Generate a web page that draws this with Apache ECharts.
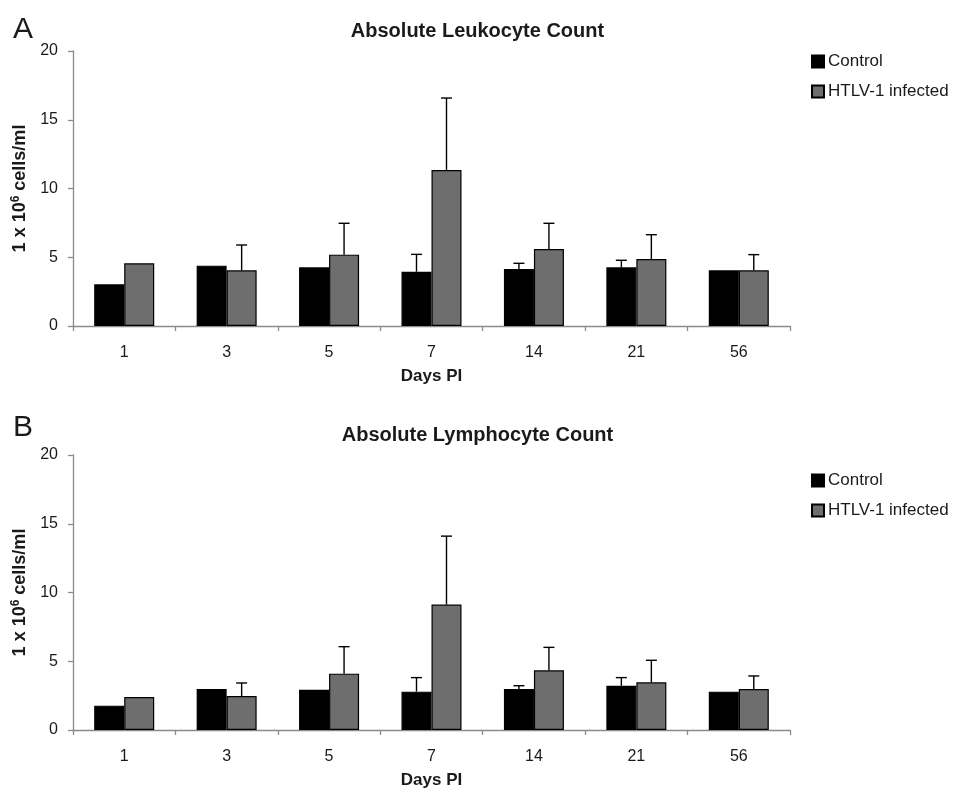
<!DOCTYPE html>
<html>
<head>
<meta charset="utf-8">
<script src="https://cdn.jsdelivr.net/npm/echarts@6/dist/echarts.min.js"></script>
<style>html,body{margin:0;padding:0;background:#fff}#c{width:955px;height:788px}</style>
</head>
<body>
<div id="c"></div>
<script>
const days = ['1', '3', '5', '7', '14', '21', '56'];
const seriesNames = ['Control', 'HTLV-1 infected'];
const yTicks = [0, 5, 10, 15, 20];

// Panel A: Absolute Leukocyte Count
const controlA = [3.03, 4.39, 4.27, 3.95, 4.15, 4.27, 4.05];
const infectedA = [4.56, 4.05, 5.19, 11.35, 5.6, 4.87, 4.05];
const controlA_sd = [null, null, null, 1.26, 0.41, 0.51, null];
const infectedA_sd = [null, 1.84, 2.28, 5.23, 1.87, 1.77, 1.14];

// Panel B: Absolute Lymphocyte Count
const controlB = [1.77, 2.98, 2.93, 2.79, 2.98, 3.22, 2.79];
const infectedB = [2.4, 2.47, 4.1, 9.12, 4.34, 3.47, 2.98];
const controlB_sd = [null, null, null, 1.02, 0.24, 0.59, null];
const infectedB_sd = [null, 0.95, 1.96, 4.98, 1.67, 1.6, 0.95];

const FONT = '"Liberation Sans", Arial, sans-serif';
const BAR_W = 30;
const AXIS_COLOR = '#8a8a8a';
const TEXT_COLOR = '#1a1a1a';

function errData(means, sds) {
  return means.map((m, i) => [i, m, sds[i]]);
}
function errSeries(means, sds, offset, axisIdx) {
  return {
    type: 'custom',
    name: 'err',
    xAxisIndex: axisIdx, yAxisIndex: axisIdx,
    z: 5,
    data: errData(means, sds),
    renderItem: function (params, api) {
      const sd = api.value(2);
      if (sd == null || isNaN(sd)) return null;
      const idx = api.value(0), m = api.value(1);
      const base = api.coord([idx, m]);
      const top = api.coord([idx, m + sd]);
      const x = base[0] + offset;
      const cap = 5.5;
      const style = { stroke: '#000', lineWidth: 1.4 };
      return {
        type: 'group',
        children: [
          { type: 'line', shape: { x1: x, y1: base[1], x2: x, y2: top[1] }, style: style },
          { type: 'line', shape: { x1: x - cap, y1: top[1], x2: x + cap, y2: top[1] }, style: style }
        ]
      };
    }
  };
}
function barSeries(name, data, color, axisIdx) {
  return {
    type: 'bar', name: name, data: data,
    xAxisIndex: axisIdx, yAxisIndex: axisIdx,
    barWidth: BAR_W, barGap: '0%',
    itemStyle: { color: color, borderColor: '#000', borderWidth: 1.2 },
    emphasis: { disabled: true }
  };
}
function xAxis(gridIndex) {
  return {
    type: 'category', gridIndex: gridIndex, data: days,
    name: 'Days PI', nameLocation: 'middle', nameGap: 42, nameMoveOverlap: false,
    nameTextStyle: { fontFamily: FONT, fontSize: 17, fontWeight: 'bold', color: TEXT_COLOR },
    axisLine: { lineStyle: { color: AXIS_COLOR, width: 1.3 } },
    axisTick: { show: true, length: 5, lineStyle: { color: AXIS_COLOR, width: 1.3 } },
    axisLabel: { fontFamily: FONT, fontSize: 16, color: TEXT_COLOR, margin: 19 }
  };
}
function yAxis(gridIndex) {
  return {
    type: 'value', gridIndex: gridIndex, min: yTicks[0], max: yTicks[yTicks.length - 1], interval: 5,
    name: '{n|1 x 10}{s|6}{n| cells/ml}', nameLocation: 'middle', nameGap: 42, nameRotate: 90, nameMoveOverlap: false,
    nameTextStyle: {
      rich: {
        n: { fontFamily: FONT, fontSize: 18, fontWeight: 'bold', color: TEXT_COLOR },
        s: { fontFamily: FONT, fontSize: 12, fontWeight: 'bold', color: TEXT_COLOR, verticalAlign: 'top', padding: [0, 0, 9, 0] }
      }
    },
    axisLine: { show: true, lineStyle: { color: AXIS_COLOR, width: 1.3 } },
    axisTick: { show: true, length: 5, lineStyle: { color: AXIS_COLOR, width: 1.3 } },
    axisLabel: { fontFamily: FONT, fontSize: 16, color: TEXT_COLOR, margin: 15 },
    splitLine: { show: false }
  };
}
function legend(top) {
  return {
    orient: 'vertical', left: 806, top: top, itemWidth: 12, itemHeight: 12, itemGap: 13,
    icon: 'rect', data: seriesNames, selectedMode: false,
    textStyle: { fontFamily: FONT, fontSize: 17, color: TEXT_COLOR, padding: [0, 0, 0, -1] }
  };
}

const chart = echarts.init(document.getElementById('c'), null, { renderer: 'canvas' });
chart.setOption({
  animation: false,
  backgroundColor: '#fff',
  title: [
    { text: 'A', left: 8, top: 10, textStyle: { fontFamily: FONT, fontSize: 30, fontWeight: 'normal', color: TEXT_COLOR } },
    { text: 'Absolute Leukocyte Count', left: 'center', top: 16, textStyle: { fontFamily: FONT, fontSize: 20, fontWeight: 'bold', color: TEXT_COLOR } },
    { text: 'B', left: 8, top: 408, textStyle: { fontFamily: FONT, fontSize: 30, fontWeight: 'normal', color: TEXT_COLOR } },
    { text: 'Absolute Lymphocyte Count', left: 'center', top: 420, textStyle: { fontFamily: FONT, fontSize: 20, fontWeight: 'bold', color: TEXT_COLOR } }
  ],
  legend: [legend(48), legend(467)],
  grid: [
    { left: 73, width: 717, top: 51, height: 275, containLabel: false, outerBoundsMode: 'none' },
    { left: 73, width: 717, top: 455, height: 275, containLabel: false, outerBoundsMode: 'none' }
  ],
  xAxis: [xAxis(0), xAxis(1)],
  yAxis: [yAxis(0), yAxis(1)],
  series: [
    barSeries(seriesNames[0], controlA, '#000000', 0),
    barSeries(seriesNames[1], infectedA, '#6e6e6e', 0),
    errSeries(controlA, controlA_sd, -BAR_W / 2, 0),
    errSeries(infectedA, infectedA_sd, BAR_W / 2, 0),
    barSeries(seriesNames[0], controlB, '#000000', 1),
    barSeries(seriesNames[1], infectedB, '#6e6e6e', 1),
    errSeries(controlB, controlB_sd, -BAR_W / 2, 1),
    errSeries(infectedB, infectedB_sd, BAR_W / 2, 1)
  ]
});
</script>
</body>
</html>
